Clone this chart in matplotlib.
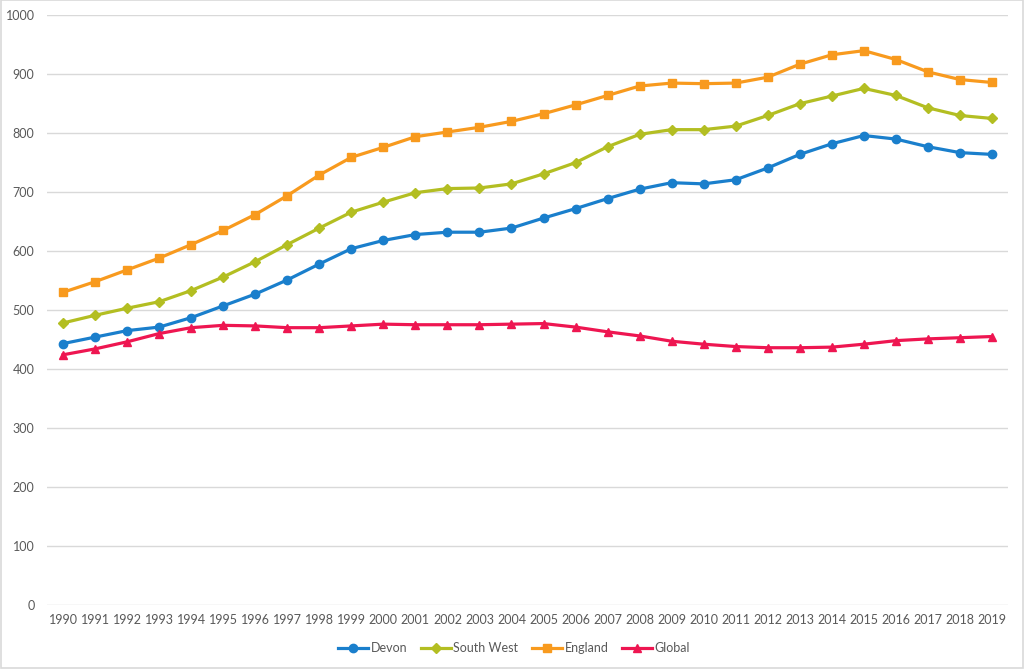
import matplotlib
matplotlib.use("Agg")
import matplotlib.pyplot as plt
from matplotlib.patches import Rectangle

years = [str(y) for y in range(1990, 2020)]
devon = [443, 454, 465, 471, 487, 507, 527, 551, 578, 604, 618, 628, 632, 632, 639,
         656, 672, 689, 705, 716, 714, 721, 741, 764, 782, 796, 790, 777, 767, 764]
south_west = [478, 491, 503, 514, 533, 556, 582, 611, 639, 666, 683, 699, 706, 707, 714,
              731, 750, 777, 798, 806, 806, 812, 830, 850, 863, 876, 864, 843, 830, 825]
england = [530, 548, 568, 588, 611, 635, 662, 694, 729, 759, 776, 794, 802, 810, 820,
           833, 848, 864, 880, 885, 884, 885, 895, 917, 933, 940, 925, 904, 891, 886]
global_ = [424, 434, 446, 460, 470, 474, 473, 470, 470, 473, 476, 475, 475, 475, 476,
           477, 471, 463, 456, 447, 442, 438, 436, 436, 437, 442, 448, 451, 453, 455]

series = [
    ("Devon", devon, "#1A7FCC", "o", 6.0),
    ("South West", south_west, "#B3BE22", "D", 5.0),
    ("England", england, "#F89A1E", "s", 5.5),
    ("Global", global_, "#EE1651", "^", 6.0),
]

plt.rcParams['font.family'] = ['Lato', 'DejaVu Sans']

fig = plt.figure(figsize=(10.24, 6.69), dpi=100)
ax = fig.add_axes([47/1024, 1 - 604.7/669, (1008-47)/1024, (604.7-15.3)/669])

x = list(range(len(years)))
for name, vals, col, mk, ms in series:
    ax.plot(x, vals, color=col, lw=2.3, marker=mk, markersize=ms,
            markeredgecolor=col, markerfacecolor=col, label=name, zorder=3)

ax.set_xlim(-0.5, len(years) - 0.5)
ax.set_ylim(0, 1000)
ax.set_yticks(range(0, 1001, 100))
ax.set_xticks(x)
ax.set_xticklabels(years)
ax.grid(axis='y', color='#D9D9D9', lw=1)
ax.set_axisbelow(True)
for s in ax.spines.values():
    s.set_visible(False)
ax.tick_params(length=0, colors='#595959', labelsize=9)
ax.tick_params(axis='y', pad=9)
ax.tick_params(axis='x', pad=7)

leg = fig.legend(loc='center', bbox_to_anchor=(514/1024, 1 - 648/669), ncol=4,
                 frameon=False, fontsize=9, handlelength=2.4, columnspacing=1.1,
                 handletextpad=0.2)
for t in leg.get_texts():
    t.set_color('#595959')

fig.patches.append(Rectangle((0.0005, 0.0008), 0.999, 0.9985, transform=fig.transFigure,
                             fill=False, edgecolor='#D9D9D9', lw=1.2))

fig.savefig("out.png", dpi=100, facecolor='white')
